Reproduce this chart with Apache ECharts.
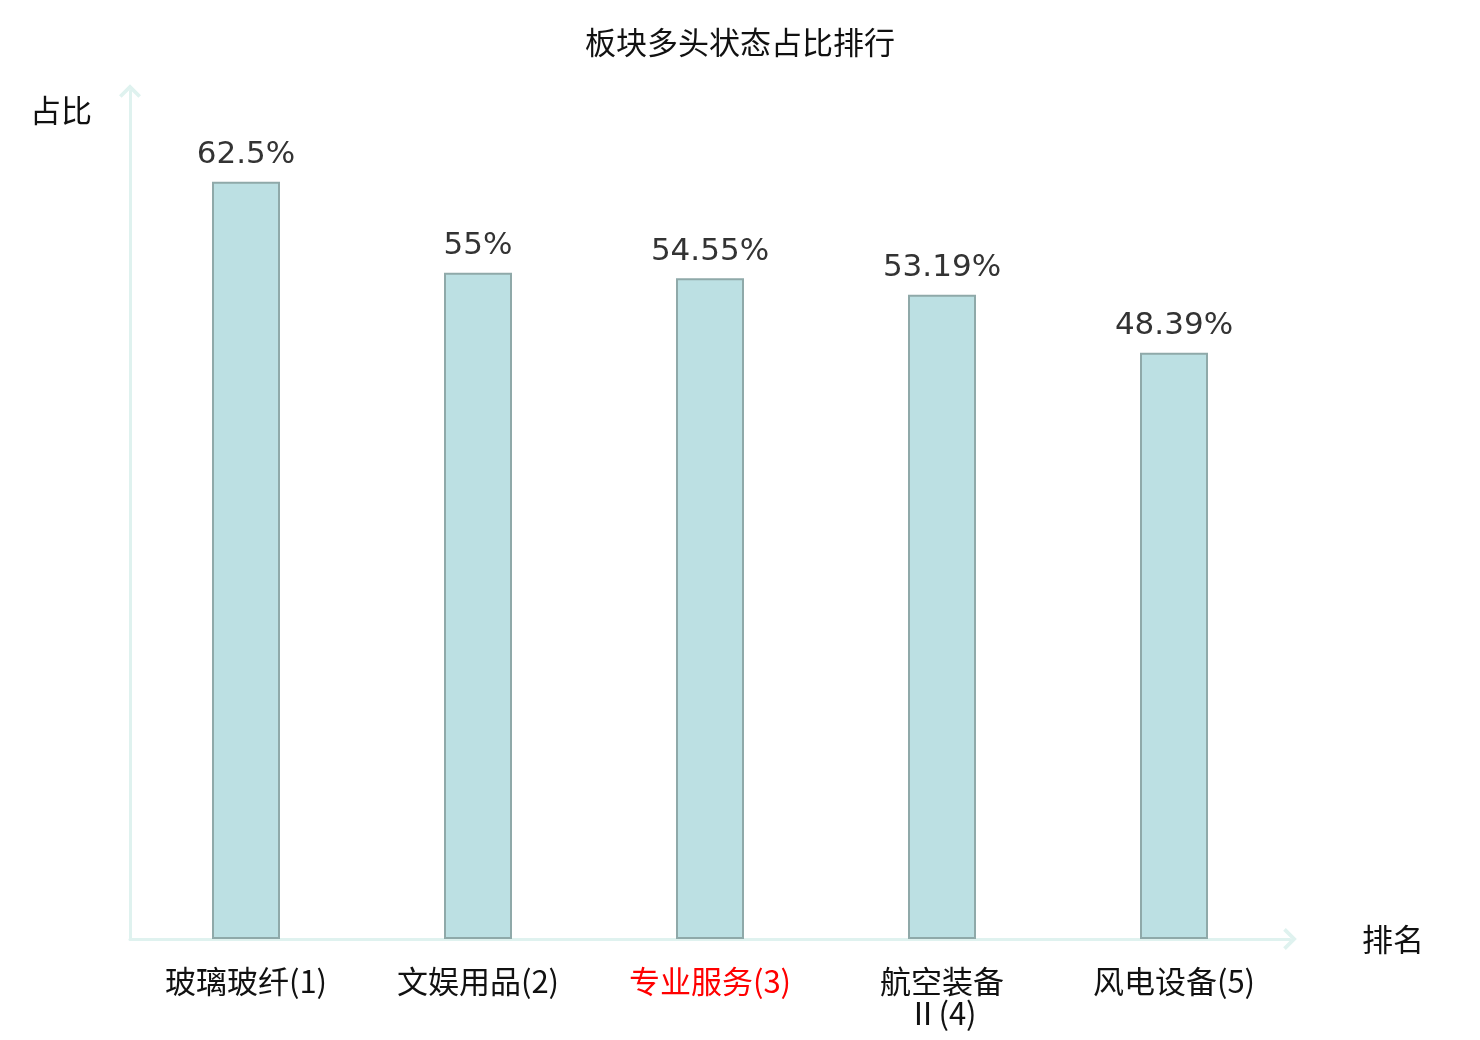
<!DOCTYPE html>
<html>
<head>
<meta charset="utf-8">
<title>板块多头状态占比排行</title>
<script src="https://cdn.jsdelivr.net/npm/echarts@6/dist/echarts.min.js"></script>
<style>
  html, body { margin: 0; padding: 0; background: #fff; }
  #main { width: 1480px; height: 1040px; }
</style>
</head>
<body>
<div id="main"></div>
<script>
var categories = ['玻璃玻纤(1)', '文娱用品(2)', '专业服务(3)', '航空装备\nⅡ(4)', '风电设备(5)'];
var ratios = [62.5, 55, 54.55, 53.19, 48.39];
var highlighted = [2];

var myChart = echarts.init(document.getElementById('main'));

// open chevron used as axis arrow
var chevron = 'path://M0,0 L10,10 L7.6,12.4 L0,4.8 L-7.6,12.4 L-10,10 Z';
var axisColor = '#dff2ef';
var cjkFont = 'Noto Sans CJK SC';

var option = {
    title: {
        text: '板块多头状态占比排行',
        left: 'center',
        top: 22,
        textStyle: {
            fontFamily: cjkFont,
            fontSize: 31,
            fontWeight: 'normal',
            color: '#111'
        }
    },
    grid: {
        left: 130,
        right: 190,
        top: 91,
        bottom: 101
    },
    xAxis: {
        type: 'category',
        data: categories,
        name: '排名',
        nameLocation: 'end',
        nameGap: 72,
        nameTextStyle: {
            fontFamily: cjkFont,
            fontSize: 31,
            color: '#111'
        },
        axisLine: {
            lineStyle: { color: axisColor, width: 3 },
            symbol: ['none', chevron],
            symbolSize: [22, 15]
        },
        axisTick: { show: false },
        axisLabel: {
            margin: 26,
            interval: 0,
            lineHeight: 32,
            fontFamily: cjkFont,
            fontSize: 31,
            color: function (value, index) {
                return highlighted.indexOf(index) >= 0 ? '#ff0000' : '#111';
            }
        }
    },
    yAxis: {
        type: 'value',
        min: 0,
        max: 70,
        name: '占比',
        nameLocation: 'end',
        nameGap: -19,
        nameTextStyle: {
            fontFamily: cjkFont,
            fontSize: 31,
            color: '#111',
            align: 'right',
            verticalAlign: 'middle',
            padding: [0, 38, 0, 0]
        },
        axisLine: {
            show: true,
            lineStyle: { color: axisColor, width: 3 },
            symbol: ['none', chevron],
            symbolSize: [22, 15]
        },
        axisTick: { show: false },
        axisLabel: { show: false },
        splitLine: { show: false }
    },
    series: [{
        type: 'bar',
        data: ratios,
        barWidth: 68,
        itemStyle: {
            color: '#bce0e3',
            borderColor: '#8fa9a9',
            borderWidth: 2
        },
        label: {
            show: true,
            position: 'top',
            distance: 11,
            fontFamily: 'DejaVu Sans',
            fontSize: 31,
            color: '#333',
            formatter: function (p) {
                return p.value + '%';
            }
        }
    }]
};

myChart.setOption(option);
</script>
</body>
</html>
